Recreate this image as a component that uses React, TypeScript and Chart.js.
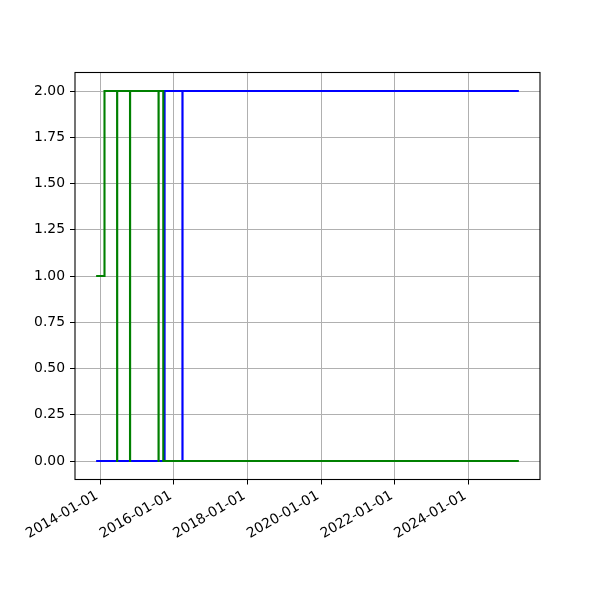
import React, { useEffect, useRef } from "react";
import { Chart, registerables } from "chart.js";

Chart.register(...registerables);

const d = (s: string) => Date.parse(s + "T00:00:00Z");

// Green series (steps-post: each value holds until the next date)
const greenDates = [
  "2013-11-22", "2014-02-13", "2014-06-18", "2014-06-19", "2014-10-24", "2014-10-25",
  "2015-08-03", "2015-08-04", "2015-09-19", "2025-05-16",
];
const greenValues = [1, 2, 0, 2, 0, 2, 0, 2, 0, 0];

// Blue series
const blueDates = ["2013-11-22", "2015-10-02", "2016-03-27", "2016-03-28", "2025-05-16"];
const blueValues = [0, 2, 0, 2, 2];

const xTickDates = ["2014-01-01", "2016-01-01", "2018-01-01", "2020-01-01", "2022-01-01", "2024-01-01"];
const yTickValues = [0, 0.25, 0.5, 0.75, 1.0, 1.25, 1.5, 1.75, 2.0];

const toPoints = (dates: string[], vals: number[]) =>
  dates.map((s, i) => ({ x: d(s), y: vals[i] }));

const fmtDate = (v: number) => {
  const dt = new Date(v);
  const p = (n: number) => String(n).padStart(2, "0");
  return `${dt.getUTCFullYear()}-${p(dt.getUTCMonth() + 1)}-${p(dt.getUTCDate())}`;
};

export default function App() {
  const ref = useRef<HTMLCanvasElement | null>(null);
  useEffect(() => {
    if (!ref.current) return;
    const allX = [...greenDates, ...blueDates].map(d);
    const xmin0 = Math.min(...allX);
    const xmax0 = Math.max(...allX);
    const span = xmax0 - xmin0;
    const font = { family: "DejaVu Sans", size: 13.9 };
    const frame = {
      id: "frame",
      afterDatasetsDraw(chart: any) {
        const { ctx, chartArea: a } = chart;
        ctx.save();
        ctx.strokeStyle = "#000";
        ctx.lineWidth = 1.1;
        ctx.strokeRect(a.left, a.top, a.right - a.left, a.bottom - a.top);
        ctx.restore();
      },
    };
    const chart = new Chart(ref.current, {
      type: "line",
      data: {
        datasets: [
          {
            data: toPoints(greenDates, greenValues),
            borderColor: "#008000",
            borderWidth: 2.1,
            stepped: "before",
            pointRadius: 0,
            fill: false,
          },
          {
            data: toPoints(blueDates, blueValues),
            borderColor: "#0000ff",
            borderWidth: 2.1,
            stepped: "before",
            pointRadius: 0,
            fill: false,
          },
        ],
      },
      options: {
        animation: false,
        responsive: false,
        parsing: false,
        layout: { padding: { left: 0, right: 60, top: 72.5, bottom: 0 } },
        plugins: { legend: { display: false }, tooltip: { enabled: false } },
        scales: {
          x: {
            type: "linear",
            min: xmin0 - span * 0.05,
            max: xmax0 + span * 0.05,
            afterBuildTicks: (s: any) => {
              s.ticks = xTickDates.map((t) => ({ value: d(t) }));
            },
            afterFit: (s: any) => {
              s.height = 120.5;
            },
            ticks: {
              autoSkip: false,
              minRotation: 30,
              maxRotation: 30,
              color: "#000",
              font,
              padding: 3,
              labelOffset: -3,
              callback: (v: any) => fmtDate(Number(v)),
            },
            grid: {
              color: "#b0b0b0",
              lineWidth: 1,
              drawTicks: true,
              tickLength: 5,
              tickColor: "#000",
              tickWidth: 1,
            },
            border: { display: false },
          },
          y: {
            type: "linear",
            min: -0.1,
            max: 2.1,
            afterBuildTicks: (s: any) => {
              s.ticks = yTickValues.map((v) => ({ value: v }));
            },
            afterFit: (s: any) => {
              s.width = 75;
            },
            ticks: {
              color: "#000",
              font,
              padding: 5,
              callback: (v: any) => Number(v).toFixed(2),
            },
            grid: {
              color: "#b0b0b0",
              lineWidth: 1,
              drawTicks: true,
              tickLength: 5,
              tickColor: "#000",
              tickWidth: 1,
            },
            border: { display: false },
          },
        },
      },
      plugins: [frame],
    } as any);
    return () => chart.destroy();
  }, []);
  return (
    <div style={{ position: "absolute", left: 0, top: 0, width: 600, height: 600, background: "#fff" }}>
      <canvas ref={ref} width={600} height={600} />
    </div>
  );
}
